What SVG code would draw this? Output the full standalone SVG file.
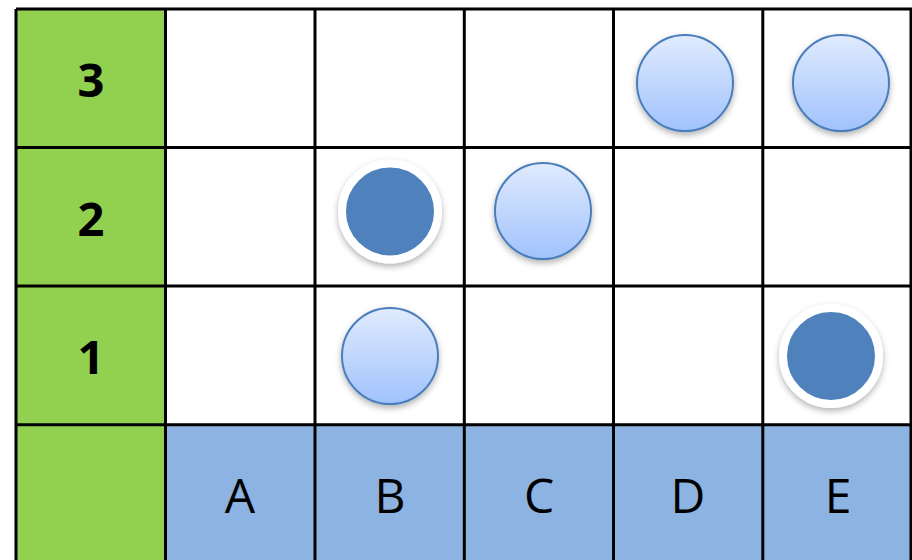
<svg xmlns="http://www.w3.org/2000/svg" width="912" height="560" viewBox="0 0 912 560">
<defs>
<linearGradient id="lg" x1="0" y1="0" x2="0" y2="1">
<stop offset="0" stop-color="#e0ebfd"/>
<stop offset="1" stop-color="#a1c2fd"/>
</linearGradient>
<filter id="sh" x="-30%" y="-30%" width="160%" height="170%">
<feDropShadow dx="0" dy="3" stdDeviation="3" flood-color="#000" flood-opacity="0.3"/>
</filter>
</defs>
<style>
.g{fill:#92d050}
.b{fill:#8db3e2}
.ln{stroke:#000;stroke-width:3;fill:none}
.num{font-family:"Open Sans","Liberation Sans",sans-serif;font-weight:bold;font-size:47px;fill:#000;text-anchor:middle}
.let{font-family:"Open Sans","Liberation Sans",sans-serif;font-size:48px;fill:#000;text-anchor:middle}
.lt{fill:url(#lg);stroke:#4a7ebb;stroke-width:2;filter:url(#sh)}
.dk{fill:#4f81bd;stroke:#fff;stroke-width:8;filter:url(#sh)}
</style>
<rect width="912" height="560" fill="#fff"/>
<g id="cells">
<rect class="g" x="16" y="9" width="149.5" height="555"/>
<rect class="b" x="165.5" y="424.7" width="750" height="140"/>
</g>
<g id="grid">
<path class="ln" d="M16 9H912M16 147.5H912M16 286H912M16 424.7H912M16 9V562M165.5 9V562M315 9V562M464.3 9V562M613.5 9V562M762.8 9V562M911 9V562"/>
</g>
<g id="labels">
<text class="num" x="91" y="97">3</text>
<text class="num" x="91" y="235.5">2</text>
<text class="num" x="91" y="374">1</text>
<text class="let" x="240" y="513">A</text>
<text class="let" x="390" y="513">B</text>
<text class="let" x="539" y="513">C</text>
<text class="let" x="688" y="513">D</text>
<text class="let" x="838" y="513">E</text>
</g>
<g id="pieces">
<circle id="d3" class="lt" cx="685" cy="83" r="48"/>
<circle id="e3" class="lt" cx="841" cy="83" r="48"/>
<circle id="c2" class="lt" cx="543" cy="211" r="48"/>
<circle id="b1" class="lt" cx="390" cy="356" r="48"/>
<circle id="b2" class="dk" cx="390" cy="211.5" r="48"/>
<circle id="e1" class="dk" cx="831" cy="356" r="48"/>
</g>
</svg>
